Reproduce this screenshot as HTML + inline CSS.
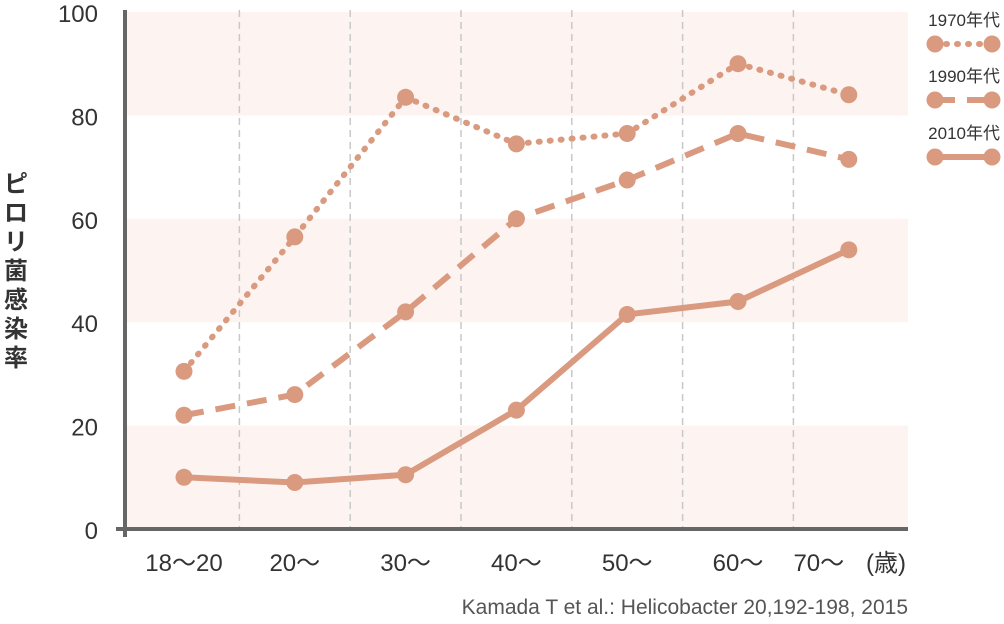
<!DOCTYPE html>
<html><head><meta charset="utf-8"><style>
body{margin:0;background:#fff;font-family:"Liberation Sans","Noto Sans CJK JP",sans-serif}
svg text{font-family:"Liberation Sans","Noto Sans CJK JP",sans-serif}
</style></head><body>
<svg id="c" width="1004" height="619" xmlns="http://www.w3.org/2000/svg"></svg>
<script>
const categories=["18〜20","20〜","30〜","40〜","50〜","60〜","70〜"];
const s1970=[30.5,56.5,83.5,74.5,76.5,90,84];
const s1990=[22,26,42,60,67.5,76.5,71.5];
const s2010=[10,9,10.5,23,41.5,44,54];
const yTicks=[0,20,40,60,80,100];
const NS="http://www.w3.org/2000/svg";
const svg=document.getElementById('c');
const x0=184,dx=110.8;
function xs(i){return x0+i*dx;}
function ys(v){return 529-v*5.17;}
function mk(t,a,p){const e=document.createElementNS(NS,t);for(const k in a)e.setAttribute(k,a[k]);(p||svg).appendChild(e);return e;}
const col="#da9a80";
for(let i=0;i<yTicks.length-1;i+=2){
 const r=mk('rect',{x:127,y:ys(yTicks[i+1]),width:781,height:ys(yTicks[i])-ys(yTicks[i+1]),fill:"#fdf4f1"});
 
 
}
for(let i=0;i<categories.length-1;i++){
 const l=mk('line',{x1:xs(i)+dx/2,x2:xs(i)+dx/2,y1:10,y2:529,stroke:"#c8c8c8","stroke-width":1.5,"stroke-dasharray":"7,5"});
 
 
}
const ya=mk('line',{x1:125,x2:125,y1:10,y2:537,stroke:"#666","stroke-width":4});


const xa=mk('line',{x1:116,x2:908,y1:529,y2:529,stroke:"#666","stroke-width":4});


yTicks.forEach(v=>{
 const t=mk('text',{x:98,y:ys(v)+10,"text-anchor":"end","font-size":24,fill:"#333"});
 t.textContent=v;
 
 
});
categories.forEach((c,i)=>{
 const t=mk('text',{x:xs(i)-(i===categories.length-1?30:0),y:571,"text-anchor":"middle","font-size":24,fill:"#333"});
 t.textContent=c;
 
 
});
const u=mk('text',{x:886,y:571,"text-anchor":"middle","font-size":24,fill:"#333"});u.textContent="(歳)";


const yt=mk('text',{x:16,y:192,"font-size":24,"font-weight":"bold",fill:"#333","text-anchor":"middle"});
"ピロリ菌感染率".split("").forEach((ch,i)=>{const ts=mk('tspan',{x:16,y:192+i*29},yt);ts.textContent=ch;});


const src=mk('text',{x:908,y:614,"text-anchor":"end","font-size":21,fill:"#555"});
src.textContent="Kamada T et al.: Helicobacter 20,192-198, 2015";


function series(d,dash,name){
 const g=mk('g',{});
 
 
 mk('polyline',{points:d.map((v,i)=>xs(i)+","+ys(v)).join(" "),fill:"none",stroke:col,"stroke-width":6,"stroke-dasharray":dash,"stroke-linecap":dash==="1,10"?"round":"butt"},g);
 d.forEach((v,i)=>{const c=mk('circle',{cx:xs(i),cy:ys(v),r:8.5,fill:col},g);
  
  });
}
series(s1970,"1,10","series-1970s");
series(s1990,"20,12","series-1990s");
series(s2010,"none","series-2010s");
[["1970年代","1,10",44],["1990年代","20,12",100],["2010年代","none",157]].forEach(([lab,dash,y])=>{
 const g=mk('g',{});
 
 
 const t=mk('text',{x:1000,y:y-18,"text-anchor":"end","font-size":17,fill:"#333"},g);t.textContent=lab;
 mk('line',{x1:935,x2:992,y1:y,y2:y,stroke:col,"stroke-width":6,"stroke-dasharray":dash,"stroke-linecap":dash==="1,10"?"round":"butt"},g);
 mk('circle',{cx:935,cy:y,r:8.5,fill:col},g);
 mk('circle',{cx:992,cy:y,r:8.5,fill:col},g);
});
</script>
</body></html>
